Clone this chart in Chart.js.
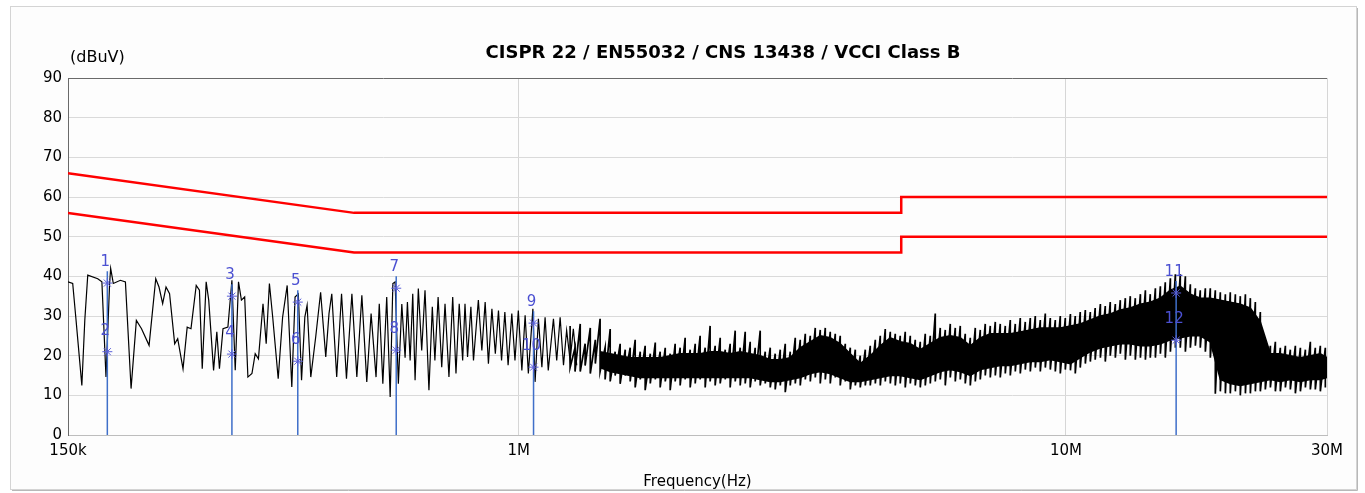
<!DOCTYPE html>
<html>
<head>
<meta charset="utf-8">
<title>CISPR 22 Class B scan</title>
<script src="https://cdn.jsdelivr.net/npm/chart.js@4.4.1/dist/chart.umd.min.js"></script>
<style>
  html, body { margin: 0; padding: 0; background: #fff; }
  #wrap { position: relative; width: 1365px; height: 493px; }
</style>
</head>
<body>
<div id="wrap"><canvas id="emiChart" width="1365" height="493"></canvas></div>
<script>
// frequencies in MHz, levels in dBuV
const tickFreq = [0.15, 1, 10, 30];
const tickLabel = ['150k', '1M', '10M', '30M'];

const limitFreq = [0.15, 0.5, 5, 5, 30];
const qpLimit = [66, 56, 56, 60, 60];
const avLimit = [56, 46, 46, 50, 50];

// low band scan, read peak by peak
const traceFreq = [0.150,0.153,0.155,0.159,0.161,0.163,0.170,0.173,0.176,0.1787,
  0.1795,0.1815,0.187,0.191,0.1956,0.200,0.2044,0.211,0.217,0.220,
  0.2234,0.2266,0.230,0.235,0.238,0.2434,0.2477,0.2517,0.2573,0.2608,
  0.2639,0.2683,0.2712,0.2768,0.2806,0.2837,0.288,0.294,0.299,0.3032,
  0.3074,0.3112,0.3155,0.3198,0.3253,0.3298,0.3343,0.3408,0.3454,0.3501,
  0.355,0.3633,0.3701,0.3773,0.3847,0.390,0.3954,0.4008,0.4064,0.4103,
  0.4167,0.4254,0.4343,0.4438,0.4499,0.4552,0.4647,0.4743,0.4842,0.4954,
  0.5058,0.5166,0.5274,0.5371,0.5484,0.5559,0.5643,0.5736,0.582,0.5886,
  0.5942,0.6024,0.6112,0.6197,0.6258,0.633,0.640,0.6463,0.6552,0.6646,
  0.6739,0.6851,0.6949,0.7025,0.7121,0.723,0.7331,0.7453,0.7572,0.7677,
  0.7782,0.7896,0.7974,0.806,0.8174,0.8264,0.8435,0.856,0.868,0.880,
  0.893,0.906,0.918,0.930,0.943,0.956,0.971,0.984,0.998,1.013,
  1.027,1.041,1.061,1.071,1.086,1.102,1.117,1.132,1.157,1.173,
  1.190,1.207,1.223,1.241,1.258,1.276];
const traceLevel = [38.6,38.2,29.7,12.5,29,40.3,39.4,38.6,14.6,38.2,
  42,38.2,39,38.6,11.7,28.9,26.8,22.6,39.4,37.3,
  33.1,37.3,35.6,23,24.3,16.7,27.2,26.8,37.7,36.5,
  16.7,38.6,34,16.3,26,16.7,26.8,27.2,39,16.3,
  38.6,34,34.8,14.6,15.5,20.5,19.2,33.1,23,38.2,
  29.7,14.2,29.7,37.7,12.1,34.8,35.6,13.8,29.7,32.7,
  14.6,24.7,36,19.7,30.6,35.6,14.6,35.6,14.2,35.6,
  14.6,35.2,13.4,30.6,14.6,33.1,12.9,34.8,9.6,38.2,
  38.6,12.9,33,19.5,33.5,18.8,35.6,13.8,36.9,21.3,
  36.5,11.3,32.3,18.8,34.8,17.1,33.1,14.6,34.8,15.5,
  33.1,18.8,33.1,19.7,32.3,18.8,34,21.3,33.5,18,
  31.8,20.5,31.4,18.8,31,17.6,30.6,18.8,31.4,16.3,
  30.2,15.5,31.8,13.4,29.3,17.1,29.7,16.3,29.3,18.8,
  29.7,17.6,26.4,18.8,26.8,17.6];

// dense part above ~1.4 MHz: solid core of the black band
const coreFreq = [1.408,1.469,1.532,1.598,1.667,1.739,1.813,
  1.891,1.972,2.057,2.145,2.237,2.334,2.434,2.539,2.648,2.762,
  2.881,3.005,3.134,3.269,3.410,3.556,3.709,3.868,4.035,4.208,
  4.389,4.578,4.775,4.979,5.194,5.417,5.650,5.892,6.146,6.410,
  6.686,6.973,7.273,7.585,7.912,8.252,8.607,8.977,9.363,9.765,
  10.19,10.62,11.08,11.56,12.05,12.57,13.11,13.68,14.26,14.88,
  15.52,16.18,16.88,17.60,18.36,19.15,19.97,20.83,21.73,22.66,
  23.64,24.65,25.71,26.82,27.97,29.17,30.0];
const coreHigh = [21,20.5,20,19.5,19.5,19.5,19.5,
  20,20.5,20.5,20.5,21,21,20.5,21,20.5,20,
  19,19,19.5,22,23.5,25,24.5,23,20.5,18,
  20,22.5,24.5,23.5,23,21.5,23,24.5,25,24.5,
  22.5,24.5,25.5,25.5,25.5,26,26.5,27,27,27,
  27.5,28,29,30,30.5,31.5,32,33,33.5,34.5,
  36.5,37.5,35.5,34.5,34.5,34,33.5,33,32,28.5,
  20.5,20.5,20,19.5,20,20.5,19.5];
const coreLow = [17,16,15.5,15,14.5,14.5,14.5,
  14.5,14.5,14.5,14.5,14.5,14.5,14.5,14.5,14.5,14,
  13.5,13.5,14,14.5,15.5,16,15.5,14.5,13.5,13.5,
  14,14.5,15,15,14.5,14,15,16,16.5,16,
  15,16.5,17,17.5,17.5,18,18.5,18.5,19,18.5,
  18,19.5,21,22,22.5,23,23,22.5,22.5,23,
  24,24.5,25,25,23.5,14,13,12.5,13,13.5,
  14,13.5,14,13.5,14,14,14.5];

// max / min of each sweep bin in the dense part (the spiky fringe)
const binFreq = [1.241,1.267,1.295,1.322,1.351,1.380,1.408,1.438,1.469,1.500,
  1.532,1.565,1.598,1.632,1.667,1.702,1.739,1.776,1.813,1.852,
  1.891,1.931,1.972,2.014,2.057,2.101,2.145,2.191,2.237,2.285,
  2.334,2.384,2.434,2.486,2.539,2.593,2.648,2.704,2.762,2.821,
  2.881,2.942,3.005,3.069,3.134,3.201,3.269,3.339,3.410,3.482,
  3.556,3.632,3.709,3.788,3.868,3.951,4.035,4.121,4.208,4.298,
  4.389,4.483,4.578,4.675,4.775,4.876,4.979,5.085,5.194,5.304,
  5.417,5.532,5.650,5.770,5.892,6.018,6.146,6.277,6.410,6.546,
  6.686,6.828,6.973,7.121,7.273,7.428,7.585,7.747,7.912,8.080,
  8.252,8.427,8.607,8.790,8.977,9.168,9.363,9.562,9.765,9.973,
  10.19,10.40,10.62,10.85,11.08,11.31,11.56,11.80,12.05,12.31,
  12.57,12.84,13.11,13.39,13.68,13.97,14.26,14.57,14.88,15.19,
  15.52,15.85,16.18,16.53,16.88,17.24,17.60,17.98,18.36,18.75,
  19.15,19.56,19.97,20.40,20.83,21.28,21.73,22.19,22.66,23.14,
  23.64,24.14,24.65,25.18,25.71,26.26,26.82,27.39,27.97,28.56,
  29.17,29.79];
const binMax = [27.5,22,28,23,27,24,29.3,22,26.7,21,
  23,21.5,22,24,21,22.5,20.5,23.3,21,22,
  20.5,23,22,24.5,21.5,23,25,22,27.5,22.5,
  24.5,21.5,23,26.3,22,26,23.5,22,26.3,21,
  22,20.5,21.5,23,21,24.5,24,25.5,25,27,
  26.5,27,26,25.5,25,23,22,21.5,20,21.5,
  22.5,24,25,26.7,26,25.5,25,26,25,24,
  23.5,25.5,25,30.6,27,26.5,28,27,27.5,25.5,
  24.5,27,26.5,28,27.5,28.5,28,27.5,29,28,
  29.5,28.5,29.5,30,29,30.6,29.5,29,30,29.5,
  30.5,30,31,31.5,31,32,33,32.5,33.5,33,
  34,34.5,35,34.5,35.5,36.5,35.5,37,37.5,38.5,
  39.5,40.5,40.5,40,38,37,36.5,37,37,36.5,
  36,35.5,36,35.5,35,35.5,34.5,33.5,31,23,
  22.5,23.5,22,22.5,21.5,22.5,22,21.5,23.5,22,
  22.5,22];
const binMin = [17,16,16,17.5,15.5,18,16,14,13.5,15,
  12.9,15,13.5,12,14,11.3,13,14,12,13.5,
  11.3,13.5,12.5,14,12,13,14,12,13.5,12.5,
  13,14,12,13.5,12.5,13,12,13.5,12.5,13,
  12,11.5,12.5,10.8,12.5,13,12.5,14,13.5,14.5,
  13,14,13,14.5,12.5,13.5,11.5,12.5,12,12.5,
  12.5,13,12.5,13.5,13,12.5,13,12,13,12.5,
  12,12.5,13,13.5,14,12.5,14.5,13.5,14,13,
  12.5,13.5,14,15,14.5,15,14.5,15.5,15,16,
  15.5,16.5,16,17,16,17,16.5,16,15.5,16.5,
  16.3,15.5,17,18,18.5,19,19.5,18.5,20,19.5,
  20.5,19,20,19,19.5,19,19.5,19.5,20.5,19.5,
  21,22,22,21,22,22.5,22,21,19.5,10.4,
  11,10.5,10.5,11,10,10.5,10.5,11,11,11.5,
  12,11,11,12,11.5,10.5,11,12,11.5,11.5,
  11,12];

const markerNo = [1,2,3,4,5,6,7,8,9,10,11,12];
const markerFreq = [0.177,0.177,0.299,0.299,0.3945,0.3945,0.597,0.597,1.064,1.064,15.9,15.9];
const markerLevel = [38.3,21,35,20.4,33.5,18.6,37,21.4,28.2,17.1,35.8,23.9];

const titleText = 'CISPR 22 / EN55032 / CNS 13438 / VCCI Class B';
const unitText = '(dBuV)';
const fontFamily = '"DejaVu Sans", Verdana, sans-serif';

function pairs(xs, ys) {
    return xs.map((f, i) => ({x: f, y: ys[i]}));
}

// each sweep bin drawn as a max-min stroke
const binData = [];
binFreq.forEach((f, i) => {
    binData.push({x: f, y: binMax[i]}, {x: f, y: binMin[i]});
});

const markerLineData = [];
for (let i = 0; i < markerFreq.length; i += 2) {
    markerLineData.push({x: markerFreq[i], y: 0}, {x: markerFreq[i], y: markerLevel[i] + 3}, {x: markerFreq[i], y: null});
}

const textPlugin = {
    id: 'emiText',
    beforeDraw(chart) {
        const ctx = chart.ctx;
        ctx.save();
        ctx.fillStyle = '#fdfdfd';
        ctx.fillRect(10, 6, 1346, 483);
        ctx.strokeStyle = '#d4d4d4';
        ctx.lineWidth = 1;
        ctx.strokeRect(10.5, 6.5, 1346, 483);
        ctx.strokeStyle = '#b8b8b8';
        ctx.beginPath();
        ctx.moveTo(12, 490.5); ctx.lineTo(1357.5, 490.5); ctx.lineTo(1357.5, 8);
        ctx.stroke();
        ctx.restore();
    },
    afterDatasetsDraw(chart) {
        const {ctx, scales: {x, y}, chartArea} = chart;
        ctx.save();
        ctx.fillStyle = '#000';
        ctx.textBaseline = 'middle';
        ctx.font = 'bold 18px ' + fontFamily;
        ctx.textAlign = 'center';
        ctx.fillText(titleText, 723, 53);
        ctx.font = '16px ' + fontFamily;
        ctx.textAlign = 'left';
        ctx.fillText(unitText, chartArea.left + 2, 58);

        ctx.fillStyle = '#4b50d2';
        ctx.font = '15px ' + fontFamily;
        ctx.textAlign = 'center';
        markerNo.forEach((n, i) => {
            ctx.fillText(String(n), x.getPixelForValue(markerFreq[i]) - 2, y.getPixelForValue(markerLevel[i]) - 21);
        });
        ctx.restore();
    }
};

const ctx = document.getElementById('emiChart').getContext('2d');
new Chart(ctx, {
    type: 'line',
    data: {
        datasets: [{
            label: 'Markers',
            data: pairs(markerFreq, markerLevel),
            showLine: false,
            pointStyle: 'star',
            pointRadius: 5,
            borderColor: '#5a5fd8',
            borderWidth: 1,
            order: 0
        }, {
            label: 'Marker lines',
            data: markerLineData,
            borderColor: '#3f6fc9',
            borderWidth: 1.5,
            pointRadius: 0,
            order: 1
        }, {
            label: 'QP limit',
            data: pairs(limitFreq, qpLimit),
            borderColor: '#ff0000',
            borderWidth: 2.5,
            pointRadius: 0,
            order: 2
        }, {
            label: 'AV limit',
            data: pairs(limitFreq, avLimit),
            borderColor: '#ff0000',
            borderWidth: 2.5,
            pointRadius: 0,
            order: 2
        }, {
            label: 'Scan',
            data: pairs(traceFreq, traceLevel),
            borderColor: '#000',
            borderWidth: 1.2,
            pointRadius: 0,
            order: 3
        }, {
            label: 'Scan bins',
            data: binData,
            borderColor: '#000',
            borderWidth: 1.7,
            pointRadius: 0,
            order: 4
        }, {
            label: 'Core top',
            data: pairs(coreFreq, coreHigh),
            borderColor: '#000',
            borderWidth: 1.5,
            pointRadius: 0,
            fill: false,
            order: 5
        }, {
            label: 'Core bottom',
            data: pairs(coreFreq, coreLow),
            borderColor: '#000',
            borderWidth: 1.5,
            backgroundColor: '#000',
            pointRadius: 0,
            fill: '-1',
            order: 5
        }]
    },
    options: {
        responsive: false,
        animation: false,
        events: [],
        layout: {
            padding: {top: 78, right: 38, left: 0, bottom: 0}
        },
        plugins: {
            legend: {display: false},
            tooltip: {enabled: false}
        },
        scales: {
            x: {
                type: 'logarithmic',
                min: 0.15,
                max: 30,
                afterBuildTicks: (s) => { s.ticks = tickFreq.map(v => ({value: v})); },
                afterFit: (s) => { s.height = 58; },
                ticks: {
                    autoSkip: false,
                    maxRotation: 0,
                    padding: 7,
                    color: '#000',
                    font: {family: fontFamily, size: 15},
                    callback: (v, i) => tickLabel[i]
                },
                grid: {
                    color: '#d6d6d6',
                    drawTicks: false
                },
                border: {color: '#bdbdbd'},
                title: {
                    display: true,
                    text: 'Frequency(Hz)',
                    color: '#000',
                    font: {family: fontFamily, size: 15},
                    padding: {top: 0, bottom: 2}
                }
            },
            y: {
                min: 0,
                max: 90,
                afterFit: (s) => { s.width = 68; },
                ticks: {
                    stepSize: 10,
                    padding: 6,
                    color: '#000',
                    font: {family: fontFamily, size: 15}
                },
                grid: {
                    color: (c) => c.tick && c.tick.value === 90 ? '#6a6a6a' : '#dadada',
                    drawTicks: false
                },
                border: {color: '#6a6a6a'}
            }
        }
    },
    plugins: [textPlugin]
});
</script>
</body>
</html>
